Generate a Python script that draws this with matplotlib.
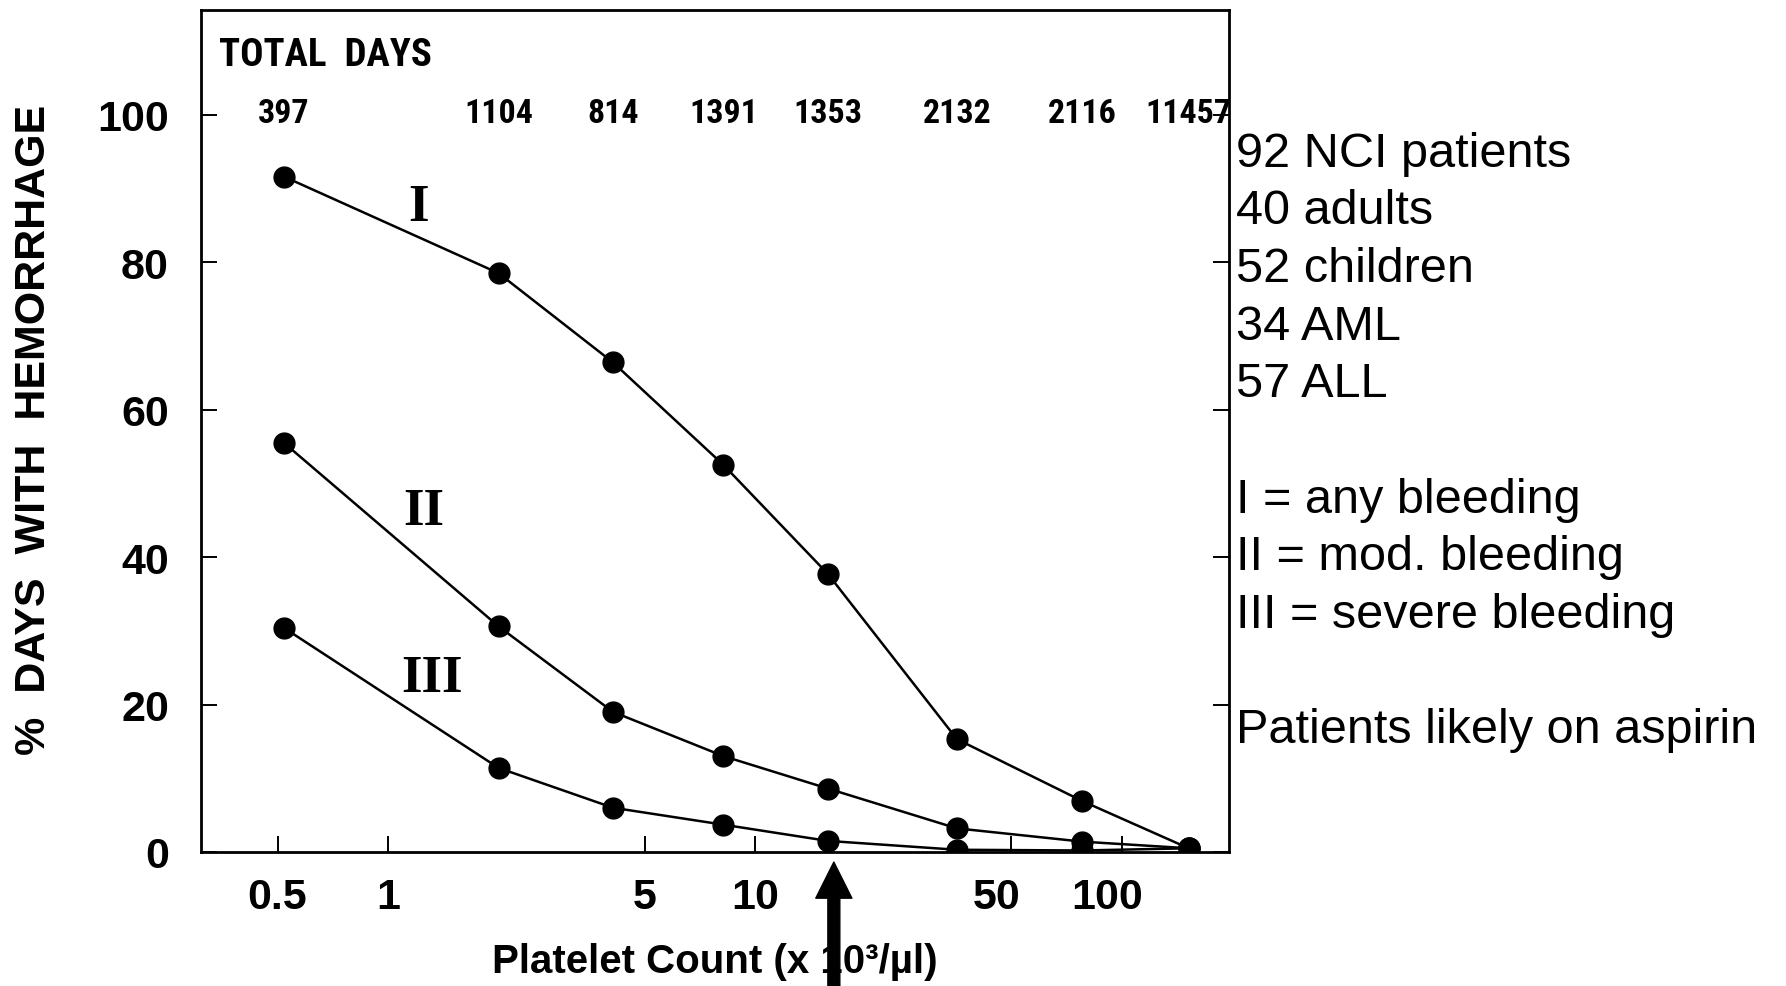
import matplotlib
matplotlib.use('Agg')
import matplotlib.pyplot as plt
from matplotlib.transforms import ScaledTranslation

# platelet count bins (x 10^3/ul) and % days with hemorrhage
platelets = [0.52, 2.0, 4.1, 8.2, 15.8, 35.5, 78, 152]
total_days = ['397', '1104', '814', '1391', '1353', '2132', '2116', '11457']
grade_1 = [91.6, 78.5, 66.4, 52.5, 37.7, 15.3, 6.9, 0.5]
grade_2 = [55.5, 30.6, 19.0, 13.0, 8.6, 3.2, 1.4, 0.5]
grade_3 = [30.4, 11.4, 6.0, 3.7, 1.5, 0.3, 0.2, 0.5]
curve_names = ['I', 'II', 'III']
name_pos = [(1.21, 87.5), (1.25, 46.2), (1.32, 23.6)]
arrow_x = 16.4

xticks = [0.5, 1, 5, 10, 50, 100]
xtick_labels = ['0.5', '1', '5', '10', '50', '100']
yticks = [0, 20, 40, 60, 80, 100]

notes = ['92 NCI patients', '40 adults', '52 children', '34 AML', '57 ALL', '',
         'I = any bleeding', 'II = mod. bleeding', 'III = severe bleeding', '',
         'Patients likely on aspirin']

sans = ['Liberation Sans', 'DejaVu Sans']
narrow = ['Roboto Condensed', 'Liberation Sans', 'DejaVu Sans']
serif = ['Liberation Serif', 'DejaVu Serif']

fig = plt.figure(figsize=(17.86, 9.87), dpi=100)
ax = fig.add_axes([0.1125, 0.1358, 0.5756, 0.8531])

for ys in (grade_1, grade_2, grade_3):
    ax.plot(platelets, ys, color='black', lw=1.8, marker='o', ms=15, zorder=3)

ax.set_xscale('log')
ax.set_xlim(0.309, 195.7)
ax.set_ylim(0, 114.2)
ax.set_xticks(xticks)
ax.set_xticklabels(xtick_labels)
ax.minorticks_off()
ax.set_yticks(yticks)

for sp in ax.spines.values():
    sp.set_linewidth(2)
ax.tick_params(axis='both', direction='in', length=11.5, width=1.4)
ax.tick_params(axis='y', right=True, pad=23)
ax.tick_params(axis='x', pad=18)
for lab in ax.get_xticklabels() + ax.get_yticklabels():
    lab.set_family(sans)
    lab.set_fontweight('bold')
    lab.set_fontsize(31)
# the two right-most x labels sit a little left of their ticks
shift = ScaledTranslation(-15 / 100, 0, fig.dpi_scale_trans)
for lab in ax.get_xticklabels()[-2:]:
    lab.set_transform(lab.get_transform() + shift)

for name, (nx, ny) in zip(curve_names, name_pos):
    ax.text(nx, ny, name, family=serif, fontweight='bold', fontsize=38,
            ha='center', va='center')

ax.text(0.018, 106.8, 'TOTAL  DAYS', transform=ax.get_yaxis_transform(),
        family=narrow, fontweight='bold', fontsize=28, ha='left', va='baseline')
for px, d in zip(platelets, total_days):
    ax.text(px, 99.0, d, family=narrow, fontweight='bold', fontsize=24.5,
            ha='center', va='baseline')

ax.annotate('', xy=(arrow_x, -0.012), xytext=(arrow_x, -0.165),
            xycoords=('data', 'axes fraction'),
            arrowprops=dict(facecolor='black', edgecolor='black', width=8.6,
                            headwidth=26, headlength=26, shrink=0),
            annotation_clip=False)

fig.text(0.019, 0.5643, '%  DAYS  WITH  HEMORRHAGE', rotation=90, family=sans,
         fontweight='bold', fontsize=31, ha='center', va='center')
fig.text(0.4003, 0.0253, 'Platelet Count (x 10\u00b3/\u00b5l)', family=sans,
         fontweight='bold', fontsize=29, ha='center', va='center')

for i, line in enumerate(notes):
    fig.text(0.692, 0.8438 - i * 0.0584, line, family=sans, fontsize=35,
             ha='left', va='center')

fig.savefig('out.png', dpi=100, facecolor='white')
